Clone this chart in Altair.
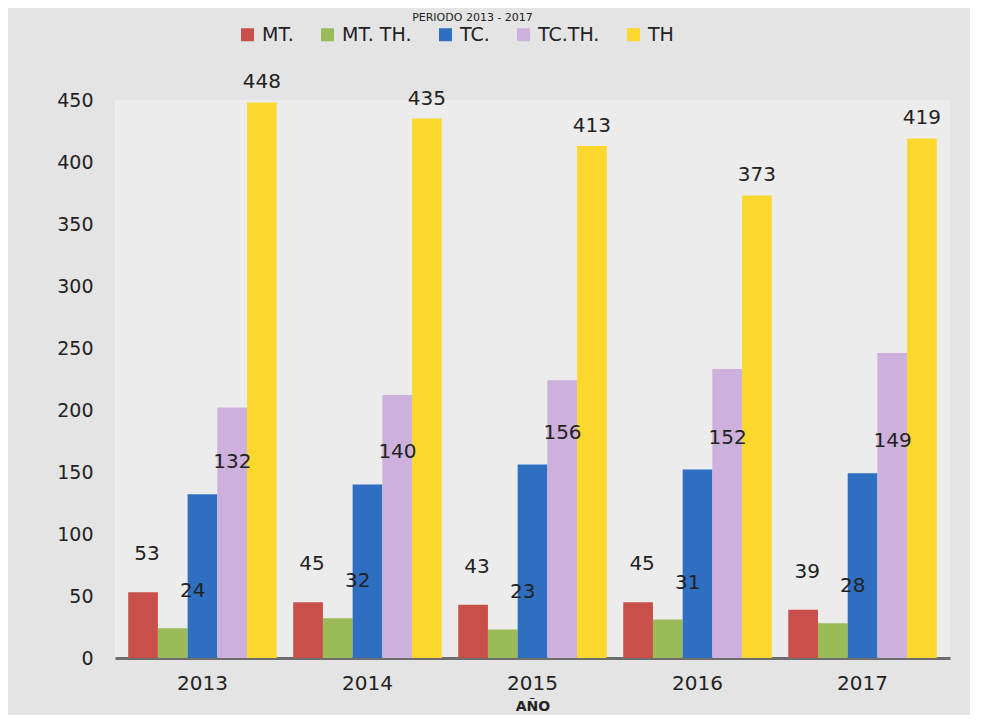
import altair as alt
import pandas as pd

years = ["2013", "2014", "2015", "2016", "2017"]
series = ["MT.", "MT. TH.", "TC.", "TC.TH.", "TH"]
mt = [53, 45, 43, 45, 39]
mt_th = [24, 32, 23, 31, 28]
tc = [132, 140, 156, 152, 149]
tc_th = [202, 212, 224, 233, 246]
th = [448, 435, 413, 373, 419]
colors = ["#c9504a", "#9bbb59", "#2f6fc2", "#cdb0dc", "#fcd82e"]

vals = [mt, mt_th, tc, tc_th, th]
rows = []
for s, v in zip(series, vals):
    for y, val in zip(years, v):
        rows.append({"year": y, "serie": s, "value": val})
df = pd.DataFrame(rows)

FONT = "DejaVu Sans"

base = alt.Chart(df)

x = alt.X("year:N", sort=years,
          scale=alt.Scale(paddingInner=0.1, paddingOuter=0.08),
          axis=alt.Axis(title="AÑO", labelAngle=0, labelFontSize=20, labelColor="#222",
                        labelPadding=15, tickSize=0, domainColor="#6d6d6d", domainWidth=3,
                        titleFontSize=14, titleFontWeight="bold", titleColor="#222",
                        titlePadding=6, labelFont=FONT, titleFont=FONT))
xo = alt.XOffset("serie:N", sort=series, scale=alt.Scale(paddingInner=0.0))
y = alt.Y("value:Q", scale=alt.Scale(domain=[0, 450], nice=False),
          axis=alt.Axis(title=None, values=list(range(0, 451, 50)), grid=False, domain=False,
                        ticks=False, labelFontSize=19, labelColor="#222", labelPadding=22,
                        labelFont=FONT))

bars = base.mark_bar(strokeWidth=1).encode(
    x=x, xOffset=xo, y=y,
    color=alt.Color("serie:N", sort=series,
                    scale=alt.Scale(domain=series, range=colors),
                    legend=alt.Legend(title=None, orient="none", direction="horizontal",
                                      legendX=123, legendY=-75, symbolType="square",
                                      symbolSize=169, symbolStrokeWidth=0, labelFontSize=19,
                                      labelColor="#222", labelFont=FONT, columnPadding=24,
                                      labelOffset=5, padding=0)),
)

offsets = {"MT.": (4, -28), "MT. TH.": (20, -27), "TC.": (30, -22), "TH": (0, -10)}
layers = [bars]
for s, (dx, dy) in offsets.items():
    layers.append(
        base.transform_filter(alt.datum.serie == s).mark_text(
            dx=dx, dy=dy, baseline="bottom", fontSize=20, color="#222", font=FONT
        ).encode(x=x, xOffset=xo, y=y, text="value:Q")
    )

chart = alt.layer(*layers).properties(
    width=835, height=558,
    title=alt.TitleParams("PERIODO 2013 - 2017", fontSize=11, fontWeight="normal",
                          color="#222", font=FONT, anchor="middle", offset=2, dx=-60),
    padding={"left": 107, "top": 92, "right": 20, "bottom": 57},
    autosize=alt.AutoSizeParams(type="none"),
    background="#e4e4e4",
).configure_view(stroke=None, fill="#ececec")

chart.save("out.html", embed_options={"renderer": "svg", "actions": False})
